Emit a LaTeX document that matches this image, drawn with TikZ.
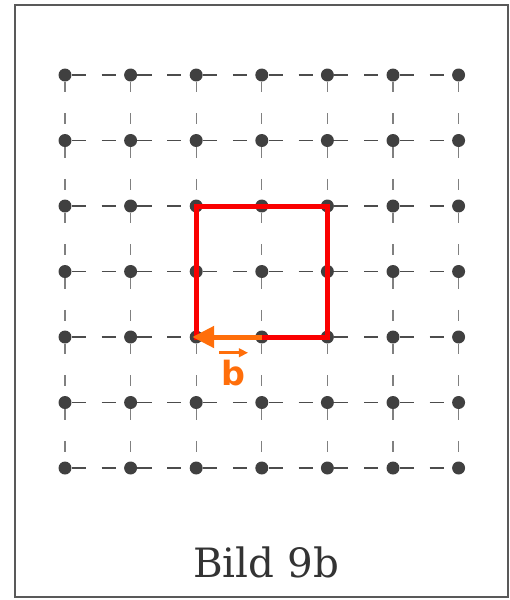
\documentclass[tikz,border=0pt]{standalone}
\usepackage{fontspec}
\newfontfamily\captionfont{DejaVu Serif}
\newfontfamily\labelfont{DejaVu Sans}
\usetikzlibrary{arrows.meta,positioning}

\definecolor{vecorange}{RGB}{255,110,10}
\definecolor{cellred}{RGB}{250,0,0}

\begin{document}
\begin{tikzpicture}[x=0.02cm, y=-0.02cm]

\tikzset{
site/.style={circle,fill=black!75,inner sep=0pt,minimum size=0.26cm},
hline/.style={draw=black!70,line width=1.1pt,dash pattern=on 8pt off 9pt},
vline/.style={draw=black!50,line width=0.6pt,dash pattern=on 6pt off 12pt},
cell/.style={draw=cellred,line width=0.1cm,line join=miter},
vecb/.style={-{Triangle[length=0.44cm,width=0.42cm]},draw=vecorange,line width=0.1cm},
vecsmall/.style={-{Triangle[length=0.18cm,width=0.17cm]},draw=vecorange,line width=0.05cm}
}

\useasboundingbox (0,0) rectangle (510,600);

% Frame
\draw[black!65,line width=1.5pt] (15,5) rectangle (508,597);

% Nodes
\foreach \i in {0,...,6}
  \foreach \j in {0,...,6}
    \node[site] (p-\i-\j) at (65+65.6*\i,75+65.5*\j) {};

% Lattice lines
\foreach \i [evaluate=\i as \k using int(\i+1)] in {0,...,5}
  \foreach \j in {0,...,6}
    \draw[hline] (p-\i-\j) -- (p-\k-\j);
\foreach \j [evaluate=\j as \k using int(\j+1)] in {0,...,5}
  \foreach \i in {0,...,6}
    \draw[vline] (p-\i-\j) -- (p-\i-\k);

% Unit cell
\draw[cell] (p-2-2.center) -- (p-4-2.center) -- (p-4-4.center) -- (p-2-4.center) -- cycle;

% Vector
\draw[vecb] (p-3-4.center) -- ([xshift=-0.08cm]p-2-4.center);
\node[text=vecorange,font=\labelfont\bfseries\fontsize{19}{22}\selectfont,inner sep=0pt] (blab) at (233,373) {b};
\draw[vecsmall] ([xshift=-0.28cm,yshift=0.14cm]blab.north) -- ([xshift=0.3cm,yshift=0.14cm]blab.north);

% Caption
\node[text=black!80,font=\captionfont\fontsize{23}{28}\selectfont] (caption) at (266,562) {Bild 9b};

\end{tikzpicture}
\end{document}
